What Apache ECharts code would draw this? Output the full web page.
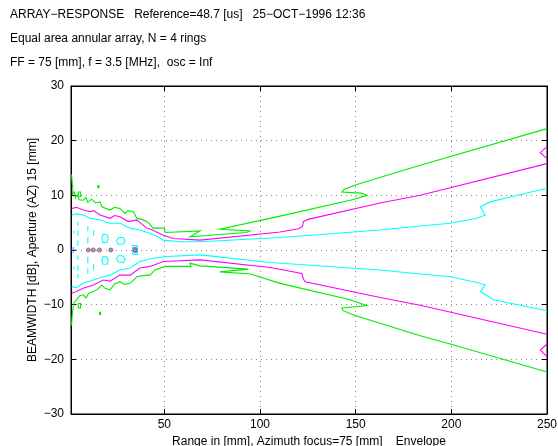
<!DOCTYPE html>
<html>
<head>
<meta charset="utf-8">
<script src="https://cdn.jsdelivr.net/npm/echarts@6/dist/echarts.min.js"></script>
<style>
html, body { margin: 0; padding: 0; background: #fff; }
#main { width: 558px; height: 446px; }
</style>
</head>
<body>
<div id="main"></div>
<script>
// header text
var titleLines = [
  'ARRAY\u2212RESPONSE   Reference=48.7 [us]   25\u2212OCT\u22121996 12:36',
  'Equal area annular array, N = 4 rings',
  'FF = 75 [mm], f = 3.5 [MHz],  osc = Inf'
];
var xTicks = [50, 100, 150, 200, 250];
var yTicks = [-30, -20, -10, 0, 10, 20, 30];

// contour paths, [range mm, beamwidth]
var greenUpper = [[1.5,13.8],[1.8,12.5],[2.2,11.0],[2.0,10.2],[3.0,10.6],[3.5,9.6],[4.5,10.1],[5.5,9.2],[7.6,9.1],[9,9.6],[10,8.7],[12,9.3],[14,8.6],[16.4,8.8],[17.3,7.9],[21.6,7.3],[24,7.8],[26.8,7.6],[29.4,6.7],[31,7.2],[33.8,7.0],[35.6,5.8],[38,5.6],[40.8,5.2],[42.5,4.7],[44,4.0],[50,4.0],[50.4,3.2],[68.7,3.5],[63.4,2.4],[93.1,3.2],[94.8,3.5],[79.1,3.8],[110.5,6.2],[148.8,9.25],[155.9,10.0],[153,10.4],[142.8,10.6],[144,11.1],[150.6,12.0],[183.7,15.5],[250,22.2]];
var greenLower = [[1.5,-13.8],[1.8,-12],[2.5,-10],[3,-9.5],[4.2,-9.1],[5.5,-8.4],[7.6,-8.2],[9,-8.8],[10.5,-7.9],[12.9,-7.6],[15,-7.2],[17.3,-6.4],[19,-7.0],[21.6,-7.3],[24,-6.2],[26.8,-5.8],[29,-6.3],[32.1,-6.1],[35.6,-4.9],[40.8,-4.6],[42.5,-4.6],[45.1,-3.65],[50.4,-3.0],[64,-3.0],[63.4,-2.4],[68.7,-2.9],[93.9,-3.5],[79.1,-4.0],[95,-4.4],[110.5,-6.1],[147.1,-9.1],[155.9,-10.2],[142.8,-10.6],[143.3,-11.1],[149.7,-12.0],[183.7,-15.7],[199.4,-17.2],[250,-22.3]];
var greenBits = [
  [[5,9.8],[6.2,9.8],[6.2,10.6],[5,10.6],[5,9.8]],
  [[5,-9.8],[6.2,-9.8],[6.2,-10.6],[5,-10.6],[5,-9.8]],
  [[15.2,11.4],[15.8,11.4],[15.8,11.8],[15.2,11.8],[15.2,11.4]],
  [[16.1,-11.4],[16.7,-11.4],[16.7,-11.8],[16.1,-11.8],[16.1,-11.4]]
];
var magentaUpper = [[1.6,7.6],[4,7.8],[7.6,7.3],[11.1,7.0],[13,7.2],[16.4,6.4],[21.6,5.8],[24,6.3],[26.8,6.1],[31.2,5.2],[35.6,5.5],[40.8,4.0],[44,3.6],[49.5,2.7],[54.7,2.1],[68.7,1.8],[110.5,3.3],[120,3.9],[122.2,4.3],[122.7,5.2],[125,5.6],[162.8,8.6],[183.7,10.0],[250,15.8]];
var magentaLower = [[1.6,-7.9],[4,-7.6],[7.6,-7.0],[12.9,-6.4],[18.1,-5.5],[21.6,-5.7],[26.8,-4.6],[32.1,-4.6],[37.3,-3.3],[42.5,-3.0],[49.5,-2.1],[68.7,-1.8],[105.3,-3.2],[121.9,-4.3],[122.5,-5.2],[123.6,-5.8],[162.8,-8.7],[183.7,-10.1],[250,-15.4]];
var magentaEdge = [
  [[250,18.9],[246.5,17.8],[250,16.7]],
  [[250,-19.5],[246.5,-18.3],[250,-17.2]]
];
var cyanUpper = [[1.6,6.4],[4,6.6],[7.6,6.4],[11.1,5.8],[16.4,5.5],[21.6,4.9],[26.8,4.9],[32.1,4.0],[37.3,3.65],[42.5,3.0],[46,2.5],[49.5,1.8],[58.2,1.5],[68.7,1.5],[110.5,2.3],[162.8,3.65],[183.7,4.4],[199.4,4.9],[213.4,5.8],[217.7,6.4],[215.1,7.9],[220.3,8.8],[230.8,9.7],[250,11.3]];
var cyanLower = [[1.6,-6.7],[4,-6.9],[7.6,-6.1],[12.9,-5.5],[18.1,-4.9],[21.6,-4.6],[26.8,-3.65],[32.1,-3.3],[37.3,-2.1],[44.2,-1.5],[51.2,-1.2],[68.7,-0.9],[105.3,-2.3],[162.8,-3.65],[183.7,-4.4],[199.4,-4.9],[214,-6.0],[217.7,-6.4],[215.1,-7.6],[222,-9.1],[250,-11.1]];
var cyanLoops = [
  [[18,1.3],[20,1.4],[20.7,2.1],[20,2.8],[18,2.9],[17.3,2.1],[18,1.3]],
  [[26,1.0],[28.5,1.1],[29.5,1.7],[28.5,2.3],[26,2.3],[25,1.7],[26,1.0]],
  [[18,-1.2],[20,-1.3],[20.7,-1.9],[20,-2.6],[18,-2.6],[17.3,-1.9],[18,-1.2]],
  [[26,-1.0],[28.5,-1.1],[29.5,-1.6],[28.5,-2.3],[26,-2.2],[25,-1.6],[26,-1.0]],
  [[33.4,-0.8],[36,-0.8],[36,0.8],[33.4,0.8],[33.4,-0.8]]
];
// short vertical cyan pieces: [x, y1, y2]
var cyanDashes = [
  [2.8,3.0,3.5],[2.8,-3.0,-3.5],
  [4.8,4.4,5.2],[4.8,2.6,3.6],[4.8,0.8,1.8],[4.8,-1.0,-1.8],[4.8,-2.8,-3.8],[4.8,-4.4,-5.2],
  [10,3.4,4.4],[10,1.2,2.4],[10,-1.2,-2.4],[10,-3.4,-4.4],
  [13,2.6,3.6],[13,-2.6,-3.6]
];
var magentaRing = [[34.1,-0.4],[35.3,-0.4],[35.3,0.4],[34.1,0.4],[34.1,-0.4]];
var axisDots = [10.3, 12.9, 16.1, 22.0, 34.7];
var bluePlus = [[2.4, 0]];

var font = 'Liberation Sans, Arial, sans-serif';
var minus = function (v) { return String(v).replace('-', '\u2212'); };

function paths(list, color, z) {
  return {
    type: 'lines', coordinateSystem: 'cartesian2d', polyline: true, silent: true,
    z: z || 3,
    lineStyle: { color: color, width: 1.1, opacity: 1 },
    data: list.map(function (p) { return { coords: p }; })
  };
}

var chart = echarts.init(document.getElementById('main'), null, { renderer: 'canvas' });

var option = {
  animation: false,
  backgroundColor: '#fff',
  title: titleLines.map(function (t, i) {
    return {
      text: t, left: 5, top: 4 + i * 24,
      textStyle: { fontFamily: font, fontSize: 12, fontWeight: 'normal', color: '#000' }
    };
  }),
  grid: {
    left: 71, right: 11, top: 86, bottom: 32, containLabel: false, outerBoundsMode: 'none',
    show: true, borderColor: '#000', borderWidth: 1, backgroundColor: 'transparent'
  },
  xAxis: [{
    type: 'value', min: 1.2, max: 250, position: 'bottom',
    name: 'Range in [mm], Azimuth focus=75 [mm]    Envelope',
    nameLocation: 'middle', nameGap: 20,
    nameTextStyle: { fontFamily: font, fontSize: 12, color: '#000' },
    axisLine: { show: true, onZero: false, lineStyle: { color: '#000', width: 1 } },
    axisTick: { show: true, inside: true, length: 5, customValues: xTicks, lineStyle: { color: '#000' } },
    axisLabel: { customValues: xTicks, fontFamily: font, fontSize: 12, color: '#000', margin: 5 },
    splitLine: { show: true, lineStyle: { color: '#888', type: [1, 4], width: 1 } }
  }, {
    type: 'value', min: 1.2, max: 250, position: 'top',
    axisLine: { show: true, onZero: false, lineStyle: { color: '#000', width: 1 } },
    axisTick: { show: true, inside: true, length: 5, customValues: xTicks, lineStyle: { color: '#000' } },
    axisLabel: { show: false },
    splitLine: { show: false }
  }],
  yAxis: [{
    type: 'value', min: -30, max: 30, interval: 10, position: 'left',
    name: 'BEAMWIDTH [dB], Aperture (AZ) 15 [mm]',
    nameLocation: 'middle', nameGap: 32, nameMoveOverlap: false,
    nameTextStyle: { fontFamily: font, fontSize: 12, color: '#000' },
    axisLine: { show: true, onZero: false, lineStyle: { color: '#000', width: 1 } },
    axisTick: { show: true, inside: true, length: 5, lineStyle: { color: '#000' } },
    axisLabel: { fontFamily: font, fontSize: 12, color: '#000', margin: 7, formatter: minus },
    splitLine: { show: true, lineStyle: { color: '#888', type: [1, 4], width: 1 } }
  }, {
    type: 'value', min: -30, max: 30, interval: 10, position: 'right',
    axisLine: { show: true, onZero: false, lineStyle: { color: '#000', width: 1 } },
    axisTick: { show: true, inside: true, length: 5, lineStyle: { color: '#000' } },
    axisLabel: { show: false },
    splitLine: { show: false }
  }],
  series: [
    paths([greenUpper, greenLower].concat(greenBits), '#00ee00', 3),
    paths([magentaUpper, magentaLower, magentaRing].concat(magentaEdge), '#ff00ff', 4),
    paths([cyanUpper, cyanLower].concat(cyanLoops), '#00ffff', 5),
    paths(cyanDashes.map(function (d) { return [[d[0], d[1]], [d[0], d[2]]]; }), '#00ffff', 5),
    {
      type: 'scatter', silent: true, z: 6, symbol: 'circle', symbolSize: 4,
      itemStyle: { color: '#00ee00', borderColor: '#ff00ff', borderWidth: 1 },
      data: axisDots.map(function (x) { return [x, 0]; })
    },
    {
      type: 'scatter', silent: true, z: 6, symbol: 'path://M0,5L10,5M5,0L5,10', symbolSize: 6,
      itemStyle: { color: 'none', borderColor: '#3366ff', borderWidth: 1 },
      data: bluePlus
    }
  ]
};
chart.setOption(option);
</script>
</body>
</html>
